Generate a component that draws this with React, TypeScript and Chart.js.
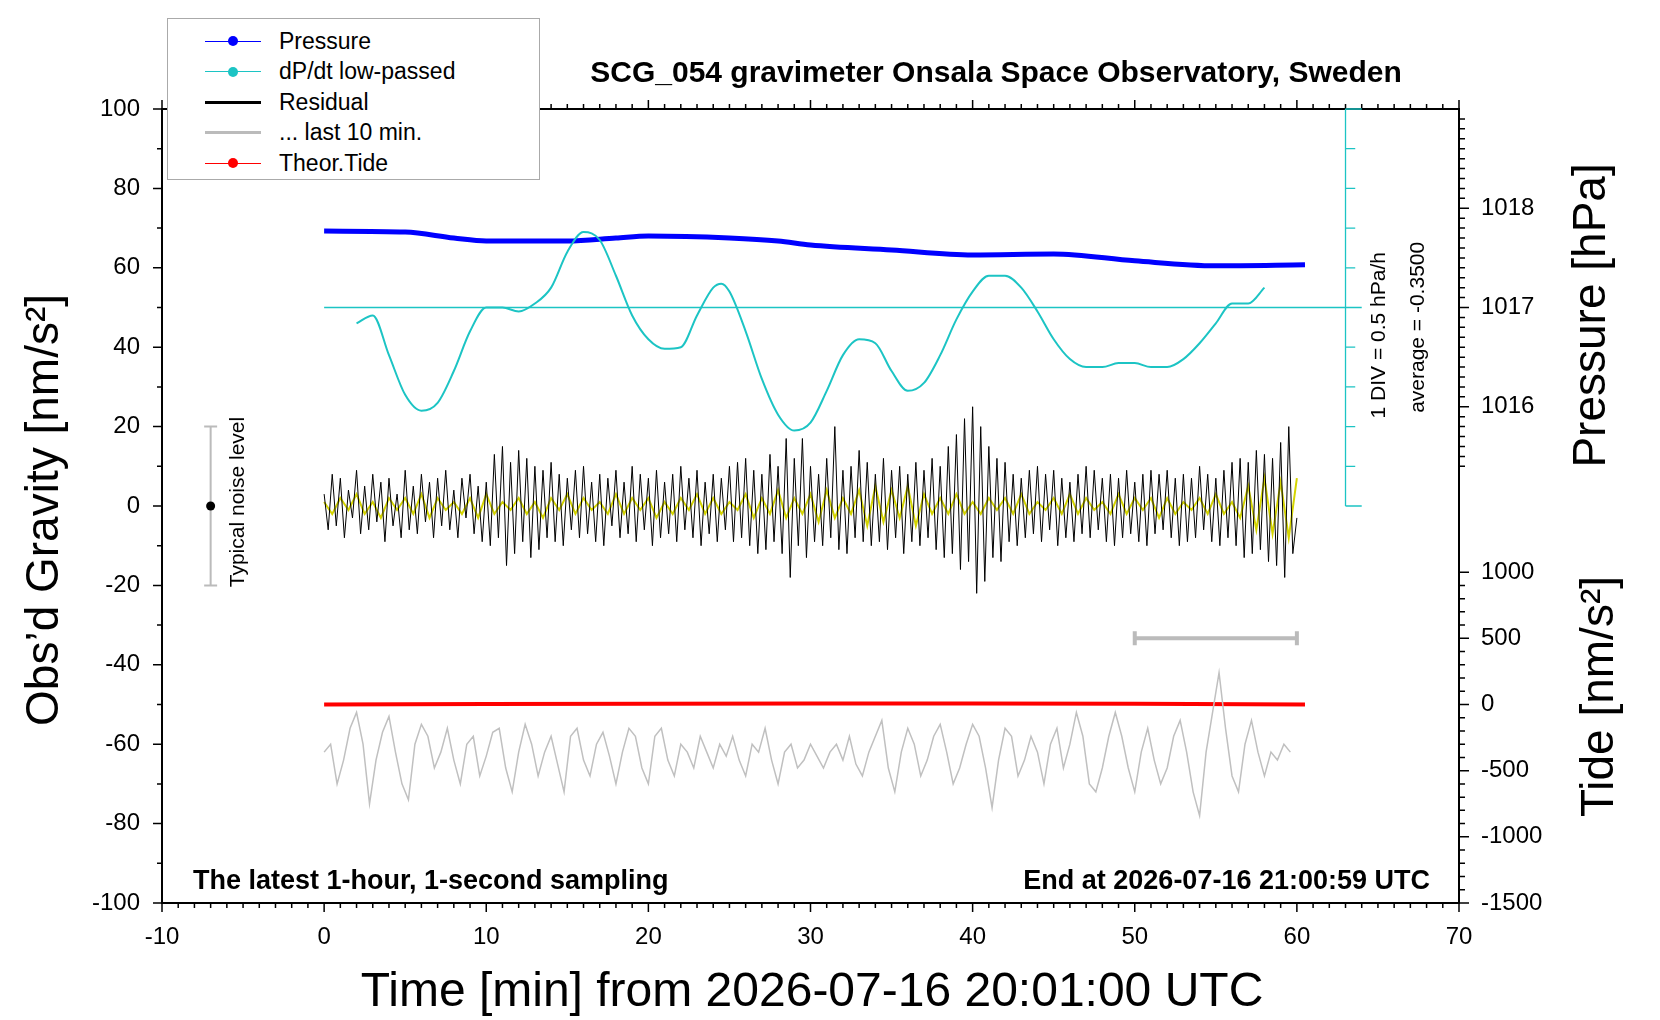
import { useEffect, useRef } from "react";
import { Chart, registerables } from "chart.js";

Chart.register(...registerables);

const FONT = "'Liberation Sans', Arial, sans-serif";

// time axis in minutes
const residualStep = 0.25;
const residual = [
  3, -6, 8, -5, 7, -8, 4, -3, 9, -7, 5, -6, 8, -4, 6, -9, 7, -5, 3, -8, 9, -6, 5, -7, 8, -4, 6, -8, 7, -5, 9, -6, 4, -8, 7, -3, 8, -7, 5, -9, 6,
  -10, 13, -8, 15, -15, 11, -12, 14, -9, 12, -13, 10, -11, 9, -8, 11,
  -9, 8, -10, 7, -6, 9, -8, 10, -7, 6, -9, 8, -10, 7, -5, 9, -8, 6, -7, 10, -9, 8, -6, 7, -10, 9, -8, 6, -7, 8, -9, 10, -6, 7, -8, 9, -10, 6, -7, 8, -9, 7, -6, 10,
  -9, 11, -8, 12, -10, 9, -12, 8, -11, 13, -9, 10, -12, 17, -18, 12, -10, 17, -13, 10,
  -9, 8, -10, 12, -8, 20, -11, 9, -12, 10, -8, 14, -9, 11, -10, 8, -9, 12, -11, 9, -8, 10, -12, 8, -9, 11, -10, 9, -8, 12, -11, 10,
  -13, 15, -12, 18, -16, 22, -14, 25, -22, 20, -19, 15, -13, 12, -14, 11,
  -9, 8, -10, 7, -8, 9, -7, 10, -9, 8, -6, 9, -10, 7, -8, 6, -9, 8, -7, 10, -8, 9, -6, 7, -9, 8, -10, 7, -8, 9, -7, 6, -9, 8, -10, 9, -7, 8, -6, 9, -8, 7, -10, 8, -9, 7, -8, 10, -6, 8, -9, 7, -10, 9, -8, 11,
  -10, 12, -13, 11, -12, 14, -11, 13, -14, 12, -15, 16, -18, 20, -12, -3,
];

const smoothStep = 0.5;
const smoothed = [
  1, -2, 2, -1, 3, -2, 1, -3, 2, -1, 2, -2, 3, -3, 2, -1, 1, -2, 2, -3, 3, -2, 1, -1, 2, -2, 1, -3, 2, -1, 3, -2, 2, -1, 1, -2, 3, -2, 2, -1,
  2, -3, 1, -2, 2, -1, 3, -2, 2, -2, 1, -1, 3, -3, 2, -2, 4, -3, 2, -2, 3, -4, 4, -3, 2, -2, 4, -5, 5, -4, 4, -3, 5, -5, 3, -2, 2, -2, 3, -2,
  1, -2, 2, -1, 2, -2, 3, -2, 1, -1, 2, -2, 3, -2, 2, -1, 1, -2, 3, -2, 2, -1, 2, -3, 2, -2, 1, -1, 2, -2, 3, -2, 1,
  -3, 5, -6, 7, -7, 6, -8, 7,
];

const lastStep = 0.4;
const last10 = [
  -62, -60, -70, -64, -56, -52, -60, -75, -64, -57, -53, -62, -70, -74, -60, -55, -58, -66, -62, -56, -64, -70, -60, -58, -68, -63, -57, -56, -66, -72,
  -62, -55, -60, -68, -62, -58, -65, -72, -58, -56, -64, -68, -60, -57, -63, -70, -62, -56, -58, -66, -70, -58, -56, -64, -68, -60, -62, -66, -58, -62,
  -66, -60, -63, -58, -64, -68, -60, -62, -56, -64, -70, -62, -60, -66, -64, -60, -63, -66, -62, -60, -64, -58, -65, -68, -62, -58, -54, -66, -72, -62,
  -56, -60, -68, -64, -58, -55, -62, -70, -66, -60, -55, -58, -66, -76, -64, -56, -58, -68, -64, -58, -62, -70, -60, -56, -66, -60, -52, -58, -70, -72,
  -66, -58, -52, -58, -66, -72, -62, -56, -64, -70, -66, -58, -54, -62, -72, -78, -62, -52, -42, -56, -68, -72, -60, -54, -62, -68, -62, -64, -60, -62,
];

const pressureTimes = [0, 5, 8, 10, 15, 18, 20, 25, 28, 30, 35, 40, 45, 50, 55, 60.5];
const pressureHpa = [1017.77, 1017.76, 1017.7, 1017.67, 1017.67, 1017.7, 1017.72, 1017.7, 1017.67, 1017.63, 1017.58, 1017.53, 1017.54, 1017.47, 1017.42, 1017.43];

const dpdtTimes = [2, 3, 4, 5, 6, 7, 8, 9, 10, 11, 12, 13, 14, 15, 16, 17, 18, 19, 20, 21, 22, 23, 24, 24.5, 25, 26, 27, 28, 29, 30, 31, 32, 33, 34, 35, 36, 37, 38, 39, 40, 41, 42, 43, 44, 45, 46, 47, 48, 49, 50, 51, 52, 53, 54, 55, 56, 57, 58];
const dpdtValues = [46, 48, 38, 28, 24, 26, 34, 44, 50, 50, 49, 51, 55, 64, 69, 67, 58, 48, 42, 39.6, 40, 48, 55, 56, 54, 44, 32, 23, 19, 21, 29, 38, 42, 41, 34, 29, 31, 38, 47, 54, 58, 58, 55, 49, 42, 37, 35, 35, 36, 36, 35, 35, 37, 41, 46, 51, 51, 55];

const tideTimes = [0, 10, 20, 30, 40, 50, 60.5];
const tideValues = [0, 3, 5, 8, 8, 5, 0];

const pressureTicks = [1016, 1017, 1018];
const tideTicks = [-1500, -1000, -500, 0, 500, 1000];

// mapping of right-hand quantities onto the gravity scale
const pToG = (p: number) => 50 + (p - 1017) * 25;
const tToG = (t: number) => -50 + (t / 500) * (50 / 3);

const series = (step: number, vals: number[]) => vals.map((y, i) => ({ x: i * step, y }));
const pairs = (xs: number[], ys: number[], f = (v: number) => v) => xs.map((x, i) => ({ x, y: f(ys[i]) }));

const decor = {
  id: "decor",
  afterDraw(chart: Chart) {
    const { ctx, chartArea: a, scales } = chart;
    const xs = scales.x;
    const ys = scales.y;
    const X = (v: number) => xs.getPixelForValue(v);
    const Y = (v: number) => ys.getPixelForValue(v);
    ctx.save();
    ctx.strokeStyle = "#000";
    ctx.lineWidth = 2;
    ctx.strokeRect(a.left, a.top, a.right - a.left, a.bottom - a.top);
    ctx.lineWidth = 1.5;
    ctx.beginPath();
    // x ticks
    for (let v = -10; v <= 70; v += 1) {
      const len = v % 10 === 0 ? 9 : 5;
      ctx.moveTo(X(v), a.bottom);
      ctx.lineTo(X(v), a.bottom + len);
      ctx.moveTo(X(v), a.top);
      ctx.lineTo(X(v), a.top - len);
    }
    // left ticks
    for (let v = -100; v <= 100; v += 10) {
      const len = v % 20 === 0 ? 9 : 5;
      ctx.moveTo(a.left, Y(v));
      ctx.lineTo(a.left - len, Y(v));
    }
    // right ticks: pressure
    for (let p = 1011.1; p <= 1019.0; p += 0.1) {
      const g = pToG(p);
      if (g < 10 || g > 100) continue;
      const major = Math.abs(p - Math.round(p)) < 0.01;
      ctx.moveTo(a.right, Y(g));
      ctx.lineTo(a.right + (major ? 10 : 6), Y(g));
    }
    // right ticks: tide
    for (let t = -1500; t <= 1000; t += 100) {
      const major = t % 500 === 0;
      ctx.moveTo(a.right, Y(tToG(t)));
      ctx.lineTo(a.right + (major ? 10 : 6), Y(tToG(t)));
    }
    ctx.stroke();

    // dP/dt axis
    ctx.strokeStyle = "#1cc4c4";
    ctx.lineWidth = 1.3;
    ctx.beginPath();
    ctx.moveTo(X(0), Y(50));
    ctx.lineTo(X(64), Y(50));
    ctx.moveTo(X(63), Y(0));
    ctx.lineTo(X(63), Y(100));
    for (let v = 0; v <= 100; v += 10) {
      ctx.moveTo(X(63), Y(v));
      ctx.lineTo(X(v === 0 || v === 100 ? 64 : 63.6), Y(v));
    }
    ctx.stroke();

    // noise level bar
    ctx.strokeStyle = "#bbb";
    ctx.lineWidth = 2;
    ctx.beginPath();
    ctx.moveTo(X(-7), Y(-20));
    ctx.lineTo(X(-7), Y(20));
    ctx.moveTo(X(-7.4), Y(20));
    ctx.lineTo(X(-6.6), Y(20));
    ctx.moveTo(X(-7.4), Y(-20));
    ctx.lineTo(X(-6.6), Y(-20));
    ctx.stroke();
    ctx.fillStyle = "#000";
    ctx.beginPath();
    ctx.arc(X(-7), Y(0), 4.5, 0, Math.PI * 2);
    ctx.fill();

    // 10 min bar
    ctx.strokeStyle = "#bbb";
    ctx.lineWidth = 4;
    ctx.beginPath();
    ctx.moveTo(X(50), Y(-33.3));
    ctx.lineTo(X(60), Y(-33.3));
    ctx.moveTo(X(50), Y(-33.3) - 7);
    ctx.lineTo(X(50), Y(-33.3) + 7);
    ctx.moveTo(X(60), Y(-33.3) - 7);
    ctx.lineTo(X(60), Y(-33.3) + 7);
    ctx.stroke();

    const rot = (text: string, x: number, y: number, font: string) => {
      ctx.save();
      ctx.translate(x, y);
      ctx.rotate(-Math.PI / 2);
      ctx.font = font;
      ctx.textAlign = "center";
      ctx.textBaseline = "middle";
      ctx.fillText(text, 0, 0);
      ctx.restore();
    };
    ctx.fillStyle = "#000";
    rot("Typical noise level", X(-5.3), Y(1), `21px ${FONT}`);
    rot("1 DIV = 0.5 hPa/h", X(65.1), Y(43), `21px ${FONT}`);
    rot("average = -0.3500", X(67.5), Y(45), `21px ${FONT}`);
    rot("Pressure [hPa]", 1592, Y(48), `46px ${FONT}`);
    rot("Tide [nm/s²]", 1600, Y(-48), `46px ${FONT}`);
    rot("Obs’d Gravity [nm/s²]", 45, Y(-1), `46px ${FONT}`);

    ctx.textBaseline = "alphabetic";
    ctx.font = `bold 30px ${FONT}`;
    ctx.textAlign = "center";
    ctx.fillText("SCG_054 gravimeter Onsala Space Observatory, Sweden", 996, 82);
    ctx.font = `bold 27px ${FONT}`;
    ctx.textAlign = "left";
    ctx.fillText("The latest 1-hour, 1-second sampling", 193, 889);
    ctx.textAlign = "right";
    ctx.fillText("End at 2026-07-16 21:00:59 UTC", 1430, 889);
    ctx.font = `48px ${FONT}";`.replace('";', "");
    ctx.font = `48px ${FONT}`;
    ctx.textAlign = "center";
    ctx.fillText("Time [min] from 2026-07-16 20:01:00 UTC", 812, 1006);
    ctx.restore();
  },
};

const legendRows = [
  { label: "Pressure", color: "#0000ff", dot: true, width: 1 },
  { label: "dP/dt low-passed", color: "#1cc4c4", dot: true, width: 1 },
  { label: "Residual", color: "#000", dot: false, width: 2.5 },
  { label: "... last 10 min.", color: "#bbb", dot: false, width: 3 },
  { label: "Theor.Tide", color: "#ff0000", dot: true, width: 1 },
];

export default function App() {
  const ref = useRef<HTMLCanvasElement | null>(null);

  useEffect(() => {
    document.body.style.margin = "0";
    if (!ref.current) return;
    const chart = new Chart(ref.current, {
      type: "line",
      data: {
        datasets: [
          { data: series(lastStep, last10), borderColor: "#c0c0c0", borderWidth: 1.5 },
          { data: series(residualStep, residual), borderColor: "#000", borderWidth: 1 },
          { data: series(smoothStep, smoothed), borderColor: "#d4d400", borderWidth: 2 },
          { data: pairs(dpdtTimes, dpdtValues), borderColor: "#1cc4c4", borderWidth: 2, cubicInterpolationMode: "monotone" },
          { data: pairs(pressureTimes, pressureHpa, pToG), borderColor: "#0000ff", borderWidth: 5, cubicInterpolationMode: "monotone" },
          { data: pairs(tideTimes, tideValues, tToG), borderColor: "#ff0000", borderWidth: 4 },
        ],
      },
      options: {
        responsive: false,
        animation: false,
        parsing: false,
        elements: { point: { radius: 0 }, line: { tension: 0 } },
        layout: { padding: { top: 109, left: 0, right: 0, bottom: 0 } },
        plugins: { legend: { display: false }, tooltip: { enabled: false } },
        scales: {
          x: {
            type: "linear",
            min: -10,
            max: 70,
            grid: { display: false },
            border: { display: false },
            ticks: { stepSize: 10, color: "#000", font: { family: FONT, size: 24 }, padding: 12, maxRotation: 0 },
            afterFit: (s: any) => { s.height = 117; },
          },
          y: {
            min: -100,
            max: 100,
            grid: { display: false },
            border: { display: false },
            ticks: { stepSize: 20, color: "#000", font: { family: FONT, size: 24 }, padding: 14 },
            afterFit: (s: any) => { s.width = 162; },
          },
          y2: {
            position: "right",
            min: -100,
            max: 100,
            grid: { display: false },
            border: { display: false },
            afterBuildTicks: (s: any) => {
              s.ticks = [...pressureTicks.map(pToG), ...tideTicks.map(tToG)].map((value) => ({ value }));
            },
            ticks: {
              color: "#000",
              font: { family: FONT, size: 24 },
              padding: 14,
              callback: (v: any) => {
                const p = pressureTicks.find((t) => Math.abs(pToG(t) - v) < 0.01);
                if (p !== undefined) return String(p);
                const t = tideTicks.find((t) => Math.abs(tToG(t) - v) < 0.01);
                return t !== undefined ? String(t) : "";
              },
            },
            afterFit: (s: any) => { s.width = 201; },
          },
        },
      },
      plugins: [decor],
    });
    return () => chart.destroy();
  }, []);

  return (
    <div style={{ position: "relative", width: 1660, height: 1020, background: "#fff", fontFamily: FONT }}>
      <canvas ref={ref} width={1660} height={1020} style={{ display: "block" }} />
      <div
        style={{
          position: "absolute", left: 167, top: 18, width: 373, height: 162, boxSizing: "border-box",
          border: "1.5px solid #aaa", background: "#fff", paddingTop: 7,
        }}
      >
        {legendRows.map((r) => (
          <div key={r.label} style={{ display: "flex", alignItems: "center", height: 30.5 }}>
            <div style={{ position: "relative", width: 56, marginLeft: 37, height: 10 }}>
              <div style={{ position: "absolute", left: 0, right: 0, top: 5 - r.width / 2, height: r.width, background: r.color }} />
              {r.dot && (
                <div style={{ position: "absolute", left: 23, top: 0, width: 10, height: 10, borderRadius: 5, background: r.color }} />
              )}
            </div>
            <span style={{ marginLeft: 18, fontSize: 23, color: "#000" }}>{r.label}</span>
          </div>
        ))}
      </div>
    </div>
  );
}
